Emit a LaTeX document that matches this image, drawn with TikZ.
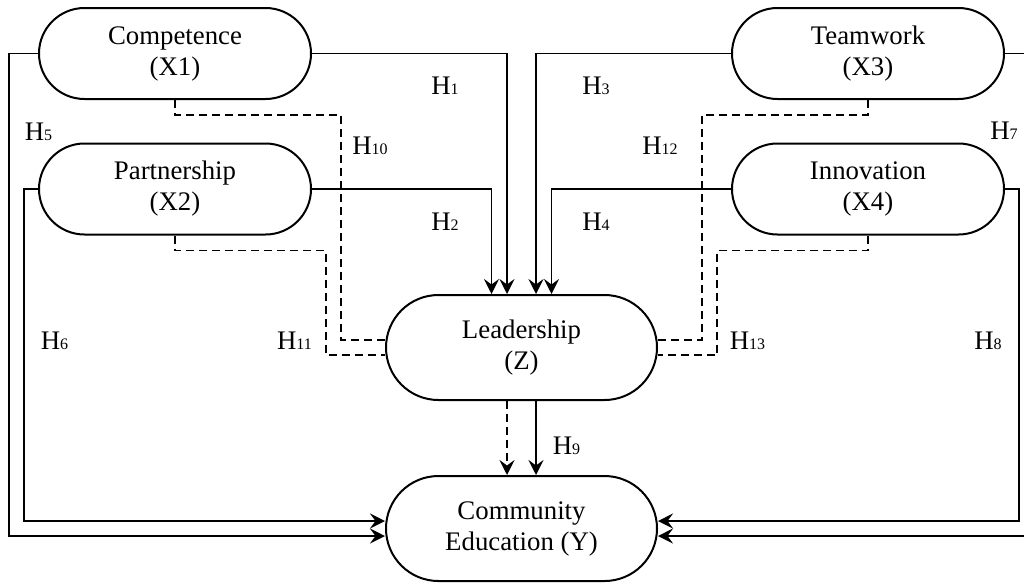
\documentclass[tikz,border=0pt]{standalone}
\usepackage{fontspec}
\setmainfont{Liberation Serif}
\usetikzlibrary{arrows.meta}
\newcommand{\hyp}[1]{H{\fontsize{16}{16}\selectfont #1}}
\begin{document}
\begin{tikzpicture}[x=1pt,y=-1pt,
  var/.style={draw, rectangle, rounded corners=45.5pt, minimum width=272pt, minimum height=91pt,
    align=center, inner sep=0pt, line width=2pt, font=\fontsize{26.8}{31}\selectfont},
  bigvar/.style={var, rounded corners=52.5pt, minimum width=271pt, minimum height=105pt},
  conn/.style={line width=1.9pt, miter limit=10},
  arr/.style={conn, -{Stealth[length=15pt,width=15pt,inset=5.5pt]}},
  dsh/.style={conn, dash pattern=on 8pt off 5pt},
  lab/.style={inner sep=0pt, font=\fontsize{26.8}{31}\selectfont}]
\useasboundingbox (0,0) rectangle (1024,582);
\clip (0,0) rectangle (1024,582);

\node[var] (c1) at (175,53.5) {Competence\\(X1)};
\node[var] (c2) at (175,189) {Partnership\\(X2)};
\node[var] (c3) at (868,53.5) {Teamwork\\(X3)};
\node[var] (c4) at (868,189) {Innovation\\(X4)};
\node[bigvar] (z) at (521.5,347.5) {Leadership\\(Z)};
\node[bigvar] (y) at (521.5,528.5) {Community\\Education (Y)};

% direct paths to Leadership
\draw[arr] (c1.east) -| ([xshift=-14.5pt]z.north);
\draw[arr] (c2.east) -| ([xshift=-30pt]z.north);
\draw[arr] (c3.west) -| ([xshift=14.5pt]z.north);
\draw[arr] (c4.west) -| ([xshift=30pt]z.north);

% direct paths to Community Education
\coordinate (l1) at (9,53.5);
\coordinate (l2) at (24,189);
\coordinate (r1) at (1034,53.5);
\coordinate (r2) at (1019,189);
\draw[arr] (c1.west) -- (l1) |- ([yshift=-7.5pt]y.west);
\draw[arr] (c2.west) -- (l2) |- ([yshift=7.5pt]y.west);
\draw[arr] (c3.east) -- (r1) |- ([yshift=-7.5pt]y.east);
\draw[arr] (c4.east) -- (r2) |- ([yshift=7.5pt]y.east);

% mediated (dashed) paths
\draw[dsh] (c1.south) -- ++(0,15) -| ([yshift=7.5pt]z.west -| 341,0) -- ([yshift=7.5pt]z.west);
\draw[dsh] (c2.south) -- ++(0,15) -| ([yshift=-7.5pt]z.west -| 326,0) -- ([yshift=-7.5pt]z.west);
\draw[dsh] (c3.south) -- ++(0,15) -| ([yshift=7.5pt]z.east -| 702,0) -- ([yshift=7.5pt]z.east);
\draw[dsh] (c4.south) -- ++(0,15) -| ([yshift=-7.5pt]z.east -| 717,0) -- ([yshift=-7.5pt]z.east);

% Leadership to Community Education
\draw[arr, dash pattern=on 8pt off 5pt] ([xshift=-14.5pt]z.south) -- ([xshift=-14.5pt]y.north);
\draw[arr] ([xshift=14.5pt]z.south) -- ([xshift=14.5pt]y.north);

% labels
\node[lab] (h1) at (445,86) {\hyp{1}};
\node[lab] (h2) at (445,222) {\hyp{2}};
\node[lab] (h3) at (596,86) {\hyp{3}};
\node[lab] (h4) at (596,222) {\hyp{4}};
\node[lab] (h5) at (38.5,132) {\hyp{5}};
\node[lab] (h6) at (54.5,341) {\hyp{6}};
\node[lab] (h7) at (1004,131) {\hyp{7}};
\node[lab] (h8) at (988,341) {\hyp{8}};
\node[lab] (h9) at (566.5,446) {\hyp{9}};
\node[lab] (h10) at (370,146) {\hyp{10}};
\node[lab] (h11) at (294.5,341) {\hyp{11}};
\node[lab] (h12) at (660,146) {\hyp{12}};
\node[lab] (h13) at (747.5,341) {\hyp{13}};
\end{tikzpicture}
\end{document}
